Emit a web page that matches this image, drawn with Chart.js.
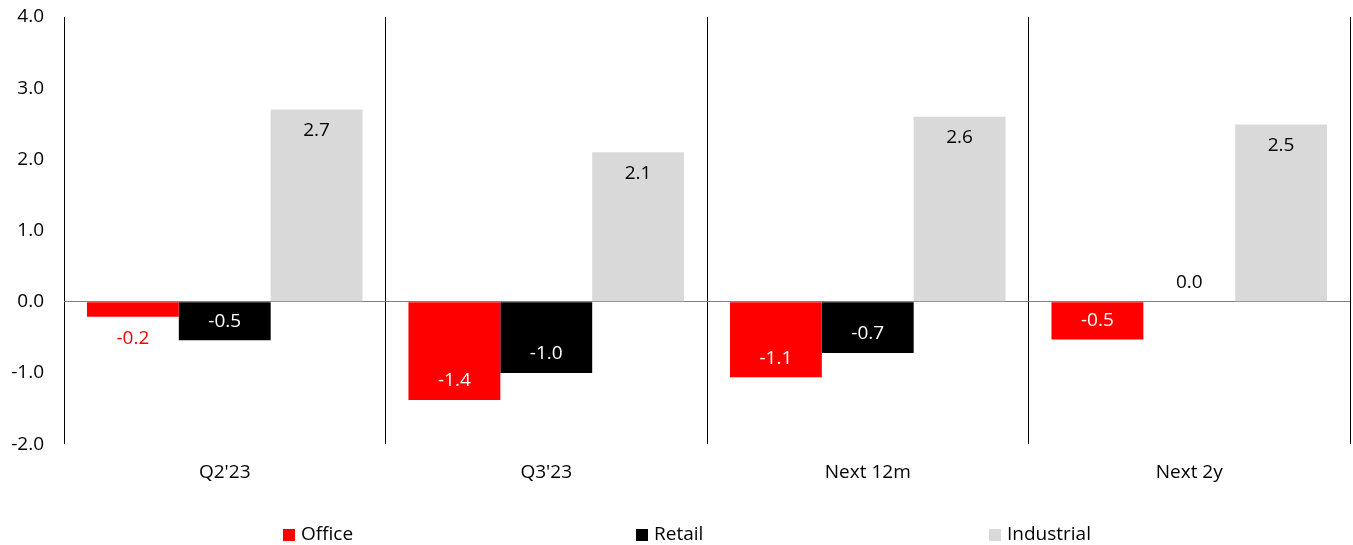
<!DOCTYPE html>
<html>
<head>
<meta charset="utf-8">
<script src="https://cdn.jsdelivr.net/npm/chart.js@4/dist/chart.umd.min.js"></script>
<style>
html,body{margin:0;padding:0;background:#fff;}
canvas{display:block;}
</style>
</head>
<body>
<canvas id="c" width="1353" height="545"></canvas>
<script>
const categories = ["Q2'23", "Q3'23", "Next 12m", "Next 2y"];
const seriesNames = ["Office", "Retail", "Industrial"];
const officeValues = [-0.21, -1.38, -1.06, -0.53];
const retailValues = [-0.54, -1.0, -0.72, 0.0];
const industrialValues = [2.70, 2.10, 2.60, 2.49];
const yTicks = [-2, -1, 0, 1, 2, 3, 4];

const FONT = "'Open Sans', 'Noto Sans', sans-serif";
const FS = 19;

const colors = ["#FF0000", "#000000", "#D9D9D9"];
const insideLabelColors = ["#FFFFFF", "#FFFFFF", "#000000"];

const dataLabelPlugin = {
  id: 'dataLabels',
  afterDatasetsDraw(chart) {
    const ctx = chart.ctx;
    ctx.save();
    ctx.font = FS + "px " + FONT;
    ctx.textAlign = 'center';
    ctx.textBaseline = 'middle';
    chart.data.datasets.forEach((ds, di) => {
      const meta = chart.getDatasetMeta(di);
      meta.data.forEach((el, i) => {
        const v = ds.data[i];
        const txt = v.toFixed(1);
        const len = Math.abs(el.y - el.base);
        let y, col;
        if (v === 0) {
          y = el.base - 19; col = '#000';
        } else if (len > 34) {
          y = v > 0 ? el.y + 21 : el.y - 19;
          col = insideLabelColors[di];
        } else {
          y = v < 0 ? el.y + 22 : el.y - 19;
          col = ds.backgroundColor;
        }
        ctx.fillStyle = col;
        ctx.fillText(txt, el.x, y);
      });
    });
    ctx.restore();
  }
};

const legendPlugin = {
  id: 'wideLegend',
  afterDraw(chart) {
    const ctx = chart.ctx;
    ctx.save();
    ctx.font = FS + "px " + FONT;
    ctx.textBaseline = 'middle';
    ctx.textAlign = 'left';
    const yc = 535;
    let x = chart.chartArea.left + 219;
    chart.data.datasets.forEach((ds) => {
      ctx.fillStyle = ds.backgroundColor;
      ctx.fillRect(x, yc - 6, 12, 12);
      ctx.fillStyle = '#000';
      ctx.fillText(ds.label, x + 18, yc);
      x += 353;
    });
    ctx.restore();
  }
};

new Chart(document.getElementById('c'), {
  type: 'bar',
  data: {
    labels: categories,
    datasets: [
      { label: seriesNames[0], data: officeValues, backgroundColor: colors[0] },
      { label: seriesNames[1], data: retailValues, backgroundColor: colors[1] },
      { label: seriesNames[2], data: industrialValues, backgroundColor: colors[2] }
    ]
  },
  options: {
    responsive: false,
    animation: false,
    devicePixelRatio: 1,
    layout: { padding: { left: 0, right: 3, top: 17, bottom: 44 } },
    datasets: { bar: { barPercentage: 1, categoryPercentage: 3 / 3.5 } },
    plugins: {
      legend: { display: false },
      tooltip: { enabled: false }
    },
    scales: {
      x: {
        grid: { offset: true, color: '#000', lineWidth: 1, drawTicks: false },
        border: { display: false },
        ticks: { font: { family: FONT, size: FS }, color: '#000', padding: 17 }
      },
      y: {
        min: yTicks[0],
        max: yTicks[yTicks.length - 1],
        afterBuildTicks(scale) { scale.ticks = yTicks.map(v => ({ value: v })); },
        afterFit(scale) { scale.width = 64; scale.paddingTop = 10; scale.paddingBottom = 10; },
        grid: {
          drawTicks: false,
          color: (c) => (c.tick && c.tick.value === 0) ? '#808080' : 'rgba(0,0,0,0)',
          lineWidth: 1
        },
        border: { display: false },
        ticks: {
          font: { family: FONT, size: FS }, color: '#000', padding: 20,
          callback: (v) => Number(v).toFixed(1)
        }
      }
    }
  },
  plugins: [dataLabelPlugin, legendPlugin]
});
</script>
</body>
</html>
